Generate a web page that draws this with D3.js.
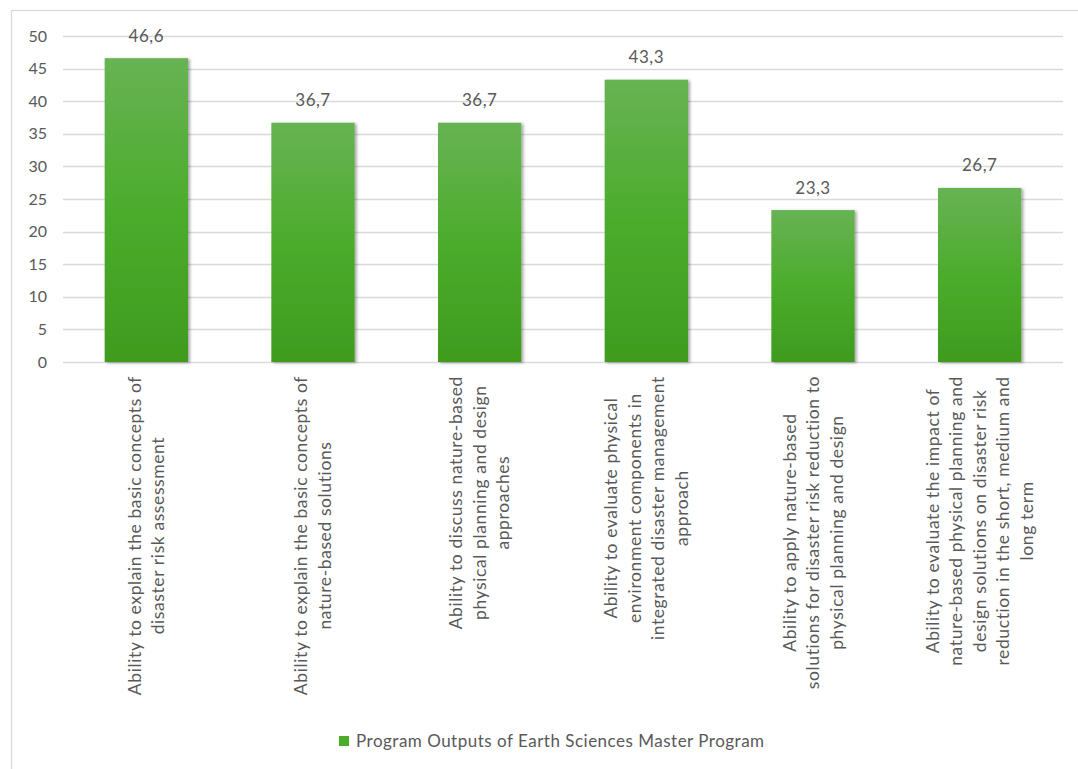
<!DOCTYPE html>
<html>
<head>
<meta charset="utf-8">
<script src="https://cdn.jsdelivr.net/npm/d3@7"></script>
<style>
  html, body { margin: 0; padding: 0; background: #ffffff; }
  svg { display: block; }
  text { font-family: Lato, "Open Sans", sans-serif; fill: #595959; }
</style>
</head>
<body>
<svg id="chart" width="1078" height="769"></svg>
<script>
// Category labels, already broken into lines
const categories = [
  ["Ability to explain the basic concepts of", "disaster risk assessment"],
  ["Ability to explain the basic concepts of", "nature-based solutions"],
  ["Ability to discuss nature-based", "physical planning and design", "approaches"],
  ["Ability to evaluate physical", "environment components in", "integrated disaster management", "approach"],
  ["Ability to apply nature-based", "solutions for disaster risk reduction to", "physical planning and design"],
  ["Ability to evaluate the impact of", "nature-based physical planning and", "design solutions on disaster risk", "reduction in the short, medium and", "long term"]
];
const values = [46.6, 36.7, 36.7, 43.3, 23.3, 26.7];
const yTicks = [0, 5, 10, 15, 20, 25, 30, 35, 40, 45, 50];
const seriesName = "Program Outputs of Earth Sciences Master Program";

const svg = d3.select("#chart");
const W = 1078, H = 769;
const plot = { left: 63, right: 1063, top: 36, bottom: 362 };

// Chart frame
svg.append("rect")
  .attr("x", 11.5).attr("y", 10.5)
  .attr("width", W + 20).attr("height", H + 20)
  .attr("fill", "#ffffff").attr("stroke", "#d9d9d9").attr("stroke-width", 1.3);

const defs = svg.append("defs");
const grad = defs.append("linearGradient")
  .attr("id", "barFill").attr("x1", 0).attr("y1", 0).attr("x2", 0).attr("y2", 1);
grad.append("stop").attr("offset", "0%").attr("stop-color", "#67b354");
grad.append("stop").attr("offset", "50%").attr("stop-color", "#4cac2c");
grad.append("stop").attr("offset", "100%").attr("stop-color", "#3f9b1e");

const shadow = defs.append("filter").attr("id", "barShadow")
  .attr("x", "-20%").attr("y", "-10%").attr("width", "140%").attr("height", "120%");
shadow.append("feDropShadow")
  .attr("dx", 2).attr("dy", 1).attr("stdDeviation", 1.5)
  .attr("flood-color", "#000000").attr("flood-opacity", 0.35);

const x = d3.scaleBand()
  .domain(d3.range(categories.length))
  .range([plot.left, plot.right])
  .paddingInner(0.5).paddingOuter(0.25);

const y = d3.scaleLinear().domain([0, 50]).range([plot.bottom, plot.top]);

// Gridlines
svg.append("g")
  .selectAll("line")
  .data(yTicks)
  .join("line")
  .attr("x1", plot.left).attr("x2", plot.right)
  .attr("y1", d => Math.round(y(d)) + 0.5).attr("y2", d => Math.round(y(d)) + 0.5)
  .attr("stroke", "#d9d9d9").attr("stroke-width", 1.3);

// Y axis labels
const yAxis = d3.axisLeft(y).tickValues(yTicks).tickSize(0).tickPadding(0);
const yg = svg.append("g").attr("transform", `translate(${47},0)`).call(yAxis);
yg.select(".domain").remove();
yg.selectAll("text")
  .style("font-size", "16px")
  .attr("fill", "#595959")
  .attr("font-family", "Lato, 'Open Sans', sans-serif");

// Bars
svg.append("g")
  .selectAll("rect")
  .data(values)
  .join("rect")
  .attr("x", (d, i) => x(i))
  .attr("y", d => y(d))
  .attr("width", x.bandwidth())
  .attr("height", d => y(0) - y(d))
  .attr("fill", "url(#barFill)")
  .attr("filter", "url(#barShadow)");

// Value labels with comma decimals
const fmt = d3.formatLocale({ decimal: ",", thousands: ".", grouping: [3], currency: ["", ""] }).format(".1f");
svg.append("g")
  .selectAll("text")
  .data(values)
  .join("text")
  .attr("x", (d, i) => x(i) + x.bandwidth() / 2)
  .attr("y", d => y(d) - 16.5)
  .attr("text-anchor", "middle")
  .style("font-size", "17px")
  .style("letter-spacing", "0.5px")
  .text(d => fmt(d));

// Rotated category labels
const lineH = 23.5;
const labelTop = 376;
const catG = svg.append("g")
  .selectAll("g")
  .data(categories)
  .join("g");

catG.each(function(lines, i) {
  const g = d3.select(this);
  const cx = x(i) + x.bandwidth() / 2;
  const texts = g.selectAll("text")
    .data(lines)
    .join("text")
    .style("font-size", "17.5px")
    .style("letter-spacing", "0.6px")
    .attr("text-anchor", "middle")
    .text(d => d);
  let maxLen = 0;
  texts.each(function() { maxLen = Math.max(maxLen, this.getComputedTextLength()); });
  const n = lines.length;
  texts
    .attr("dy", "0.35em")
    .attr("transform", (d, k) =>
      `translate(${cx + (k - (n - 1) / 2) * lineH},${labelTop + maxLen / 2}) rotate(-90)`);
});

// Legend
const legend = svg.append("g").attr("transform", "translate(339,736)");
legend.append("rect").attr("width", 10).attr("height", 10).attr("fill", "#4cac2c");
legend.append("text")
  .attr("x", 17).attr("y", 5).attr("dy", "0.35em")
  .style("font-size", "17px")
  .style("letter-spacing", "0.5px")
  .text(seriesName);
</script>
</body>
</html>
